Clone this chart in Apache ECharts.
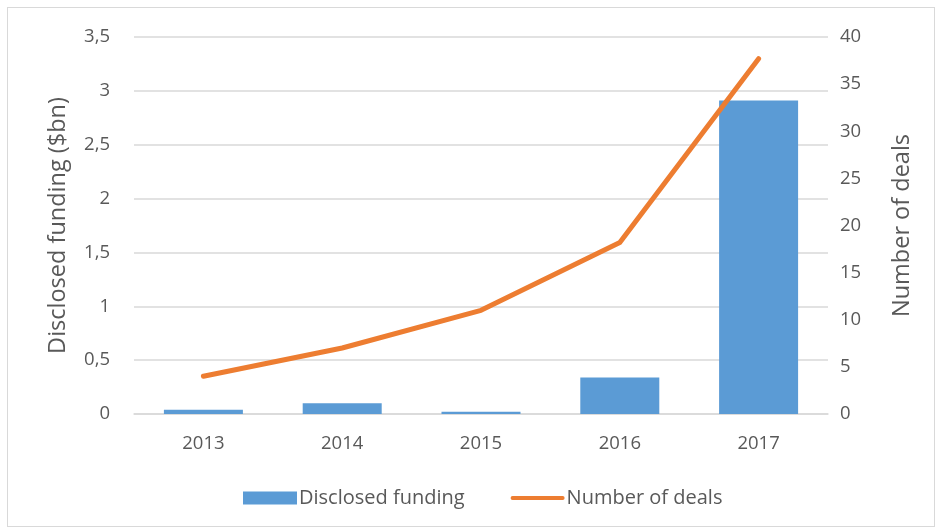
<!DOCTYPE html>
<html>
<head>
<meta charset="utf-8">
<script src="https://cdn.jsdelivr.net/npm/echarts@6/dist/echarts.min.js"></script>
<style>
  html, body { margin: 0; padding: 0; background: #fff; }
  #frame { position: absolute; left: 7px; top: 7px; width: 928px; height: 520px; border: 1px solid #d9d9d9; box-sizing: border-box; }
  #chart { width: 939px; height: 531px; }
</style>
</head>
<body>
<div id="frame"></div>
<div id="chart"></div>
<script>
const years = ['2013', '2014', '2015', '2016', '2017'];
const disclosedFunding = [0.04, 0.10, 0.02, 0.34, 2.91];
const numberOfDeals = [4, 7, 11, 18.2, 37.7];

const FONT = '"Open Sans", Lato, sans-serif';
const TXT = '#595959';

const chart = echarts.init(document.getElementById('chart'), null, { renderer: 'canvas' });
chart.setOption({
  animation: false,
  textStyle: { fontFamily: FONT, color: TXT },
  grid: { left: 134, right: 111, top: 37, bottom: 117, containLabel: false },
  legend: {
    bottom: 18,
    left: 238,
    itemGap: 46,
    itemWidth: 54,
    itemHeight: 13,
    textStyle: { fontFamily: FONT, fontSize: 20, color: TXT, padding: [0, 0, 0, -3] },
    data: [
      { name: 'Disclosed funding', icon: 'rect' },
      { name: 'Number of deals', icon: 'path://M1,4 L53,4 A2,2 0 0 1 53,8 L1,8 A2,2 0 0 1 1,4 Z' }
    ]
  },
  xAxis: {
    type: 'category',
    data: years,
    axisLine: { show: true, lineStyle: { color: '#d9d9d9', width: 1.5 } },
    axisTick: { show: false },
    axisLabel: { fontFamily: FONT, fontSize: 18.5, color: TXT, margin: 20 }
  },
  yAxis: [
    {
      type: 'value',
      min: 0, max: 3.5, interval: 0.5,
      name: 'Disclosed funding ($bn)',
      nameLocation: 'middle',
      nameGap: 64,
      nameRotate: 90,
      nameTextStyle: { fontFamily: FONT, fontSize: 23.5, color: TXT },
      axisLine: { show: false },
      axisTick: { show: false },
      axisLabel: {
        fontFamily: FONT, fontSize: 18.5, color: TXT, margin: 24,
        formatter: v => String(v).replace('.', ',')
      },
      splitLine: { lineStyle: { color: '#d9d9d9', width: 1.5 } }
    },
    {
      type: 'value',
      min: 0, max: 40, interval: 5,
      name: 'Number of deals',
      nameLocation: 'middle',
      nameGap: 62,
      nameRotate: 90,
      nameTextStyle: { fontFamily: FONT, fontSize: 23.5, color: TXT },
      axisLine: { show: false },
      axisTick: { show: false },
      axisLabel: { fontFamily: FONT, fontSize: 18.5, color: TXT, margin: 12 },
      splitLine: { show: false }
    }
  ],
  series: [
    {
      name: 'Disclosed funding',
      type: 'bar',
      yAxisIndex: 0,
      data: disclosedFunding,
      barWidth: 79,
      itemStyle: { color: '#5b9bd5' }
    },
    {
      name: 'Number of deals',
      type: 'line',
      yAxisIndex: 1,
      data: numberOfDeals,
      symbol: 'none',
      lineStyle: { color: '#ed7d31', width: 5, cap: 'round', join: 'round' },
      itemStyle: { color: '#ed7d31' }
    }
  ]
});
</script>
</body>
</html>
